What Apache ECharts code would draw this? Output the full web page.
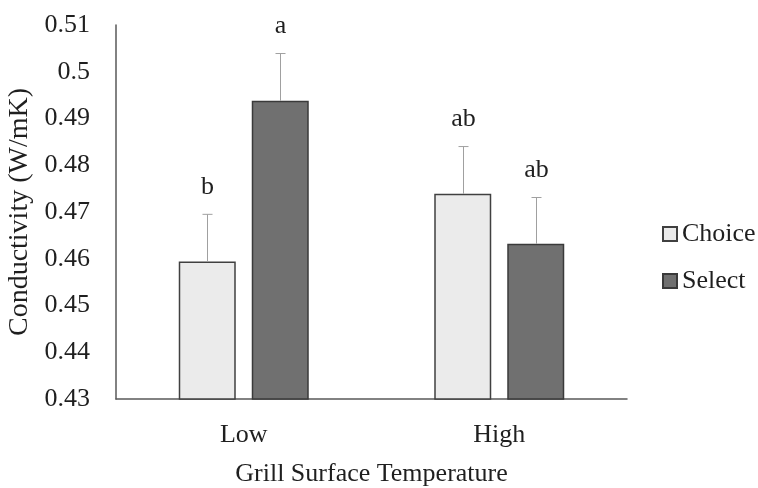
<!DOCTYPE html>
<html>
<head>
<meta charset="utf-8">
<script src="https://cdn.jsdelivr.net/npm/echarts@6/dist/echarts.min.js"></script>
<style>html,body{margin:0;padding:0;background:#fff}#c{width:758px;height:488px}</style>
</head>
<body>
<div id="c"></div>
<script>
var categories = ['Low', 'High'];
var choiceValues = [0.4594, 0.4739];
var selectValues = [0.4938, 0.4632];
var choiceUpper = [0.4695, 0.4840];
var selectUpper = [0.5039, 0.4731];
var choiceLetters = ['b', 'ab'];
var selectLetters = ['a', 'ab'];
var yTicks = [0.43, 0.44, 0.45, 0.46, 0.47, 0.48, 0.49, 0.5, 0.51];

var FONT = '"Liberation Serif", "Times New Roman", serif';
var FS = 26;
var BAR_W = 57, GAP = 16;

var errData = [];
for (var i = 0; i < categories.length; i++) {
  errData.push([i, -1, choiceValues[i], choiceUpper[i], choiceLetters[i]]);
  errData.push([i, 1, selectValues[i], selectUpper[i], selectLetters[i]]);
}

var chart = echarts.init(document.getElementById('c'));
chart.setOption({
  animation: false,
  textStyle: { fontFamily: FONT },
  grid: { left: 116, right: 131, top: 25, bottom: 89, containLabel: false, outerBoundsMode: 'none' },
  legend: {
    orient: 'vertical', left: 662, top: 221, padding: 0,
    itemWidth: 14, itemHeight: 14, itemGap: 21,
    icon: 'rect',
    textStyle: { fontFamily: FONT, fontSize: FS, color: '#1f1f1f' },
    data: ['Choice', 'Select']
  },
  xAxis: {
    type: 'category', data: categories,
    axisLine: { lineStyle: { color: '#595959', width: 1.5 } },
    axisTick: { show: false },
    axisLabel: { fontFamily: FONT, fontSize: FS, color: '#1f1f1f', margin: 23 },
    name: 'Grill Surface Temperature', nameLocation: 'middle', nameGap: 62,
    nameTextStyle: { fontFamily: FONT, fontSize: FS, color: '#1f1f1f' }
  },
  yAxis: {
    type: 'value', min: 0.43, max: 0.51, interval: 0.01,
    axisLine: { show: true, lineStyle: { color: '#595959', width: 1.5 } },
    axisTick: { show: false },
    splitLine: { show: false },
    axisLabel: { fontFamily: FONT, fontSize: FS, color: '#1f1f1f', margin: 26,
      formatter: function (v) { return String(parseFloat(v.toFixed(2))); } },
    name: 'Conductivity (W/mK)', nameLocation: 'middle', nameGap: 71, nameRotate: 90,
    nameTextStyle: { fontFamily: FONT, fontSize: 28, color: '#1f1f1f' }
  },
  series: [
    { name: 'Choice', type: 'bar', data: choiceValues, barWidth: BAR_W, barGap: (GAP / BAR_W * 100) + '%',
      itemStyle: { color: '#ebebeb', borderColor: '#404040', borderWidth: 1.5 } },
    { name: 'Select', type: 'bar', data: selectValues, barWidth: BAR_W,
      itemStyle: { color: '#707070', borderColor: '#3a3a3a', borderWidth: 1.5 } },
    { type: 'custom', data: errData, z: 5,
      renderItem: function (params, api) {
        var cat = api.value(0), side = api.value(1);
        var off = side * (BAR_W + GAP) / 2;
        var p0 = api.coord([cat, api.value(2)]);
        var p1 = api.coord([cat, api.value(3)]);
        var x = Math.round(p0[0] + off) + 0.5;
        var letter = errData[params.dataIndex][4];
        return { type: 'group', children: [
          { type: 'line', shape: { x1: x, y1: p0[1], x2: x, y2: p1[1] }, style: { stroke: '#a0a0a0', lineWidth: 1 } },
          { type: 'line', shape: { x1: x - 5, y1: p1[1], x2: x + 5, y2: p1[1] }, style: { stroke: '#a0a0a0', lineWidth: 1 } },
          { type: 'text', x: x, y: p1[1] - 27, style: { text: letter, fontFamily: FONT, fontSize: FS, fill: '#1f1f1f', align: 'center', verticalAlign: 'middle' } }
        ]};
      }
    }
  ]
});
</script>
</body>
</html>
